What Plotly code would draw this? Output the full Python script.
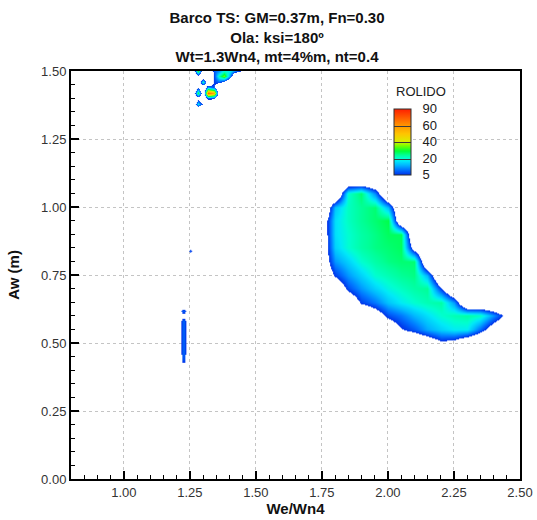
import numpy as np
import plotly.graph_objects as go

# ---------------------------------------------------------------------------
# Roll response (ROLIDO, degrees) on the frequency-ratio / wave-amplitude plane
# x: We/Wn4, y: Aw (m). Values below 5 are left blank in the flood.
# ---------------------------------------------------------------------------

# main unstable region
x_main = [1.70, 1.75, 1.80, 1.85, 1.90, 1.95, 2.00, 2.05, 2.10, 2.15, 2.20, 2.25,
          2.30, 2.35, 2.40, 2.45, 2.50]
y_main = [0.45, 0.50, 0.55, 0.60, 0.65, 0.70, 0.75, 0.80, 0.85, 0.90, 0.95, 1.00,
          1.05, 1.10, 1.15]
rolido_main = [
    [0, 0,   0,  0,  0,  0,   0,   0,   0,   0.5, 1,   1,   0.5, 0,  0,  0,  0],
    [0, 0,   0,  0,  0,  0,   0.5, 1,   0.5, 2,   4.2, 3.5, 1,   0,  0,  0,  0],
    [0, 0,   0,  0,  0,  0.5, 2.5, 4.8, 8,   13,  16,  18,  18,  9,  3,  1,  0],
    [0, 0,   0,  0,  1,  3,   7,   10,  14,  17,  20,  22,  23,  21, 12, 4,  0],
    [0, 0,   0,  2,  6,  10,  15,  18,  20,  22,  23,  12,  0,   0,  0,  0,  0],
    [0, 0,   2,  7,  12, 16,  19,  21,  23,  24,  5.5, 0,   0,   0,  0,  0,  0],
    [0, 1.5, 6,  12, 16, 20,  22,  24,  25,  14,  0,   0,   0,   0,  0,  0,  0],
    [0, 2.5, 12, 16, 20, 23,  25,  26,  26,  0,   0,   0,   0,   0,  0,  0,  0],
    [0, 2.5, 16, 20, 23, 25,  26,  27,  3,   0,   0,   0,   0,   0,  0,  0,  0],
    [0, 2.5, 17, 20, 23, 25,  27,  27,  0,   0,   0,   0,   0,   0,  0,  0,  0],
    [0, 2.5, 17, 21, 24, 26,  28,  0.5, 0,   0,   0,   0,   0,   0,  0,  0,  0],
    [0, 0,   15, 21, 24, 26,  14,  0,   0,   0,   0,   0,   0,   0,  0,  0,  0],
    [0, 0,   0,  20, 26, 11,  0,   0,   0,   0,   0,   0,   0,   0,  0,  0,  0],
    [0, 0,   0,  0,  0,  0,   0,   0,   0,   0,   0,   0,   0,   0,  0,  0,  0],
    [0, 0,   0,  0,  0,  0,   0,   0,   0,   0,   0,   0,   0,   0,  0,  0,  0],
]

# narrow streak near We/Wn4 = 1.22
x_streak = [1.20, 1.21, 1.22, 1.23, 1.24, 1.25]
y_streak = [0.40, 0.42, 0.44, 0.46, 0.48, 0.50, 0.52, 0.54, 0.56, 0.58, 0.60,
            0.62, 0.64, 0.66]
rolido_streak = [
    [0, 0, 0, 0,   0, 0],
    [0, 1, 4, 4.5, 1, 0],
    [0, 2, 7, 7,   2, 0],
    [0, 3, 8, 8,   3, 0],
    [0, 3, 8, 8,   3, 0],
    [0, 3, 8, 8,   3, 0],
    [0, 3, 8, 8,   3, 0],
    [0, 3, 8, 8,   3, 0],
    [0, 3, 8, 8,   3, 0],
    [0, 3, 8, 8,   3, 0],
    [0, 2, 4, 4,   2, 0],
    [0, 4, 8, 8,   4, 0],
    [0, 0, 2, 2,   0, 0],
    [0, 0, 0, 0,   0, 0],
]

# isolated point near Aw = 0.84
x_dot = [1.23, 1.24, 1.25, 1.26, 1.27]
y_dot = [0.82, 0.83, 0.84, 0.85, 0.86]
rolido_dot = [
    [0, 0, 0, 0, 0],
    [0, 0, 4, 0, 0],
    [0, 4, 8, 4, 0],
    [0, 0, 4, 0, 0],
    [0, 0, 0, 0, 0],
]

# scattered spots at the top of the domain
x_top = [1.26, 1.28, 1.30, 1.32, 1.34, 1.36, 1.38, 1.40, 1.42, 1.44, 1.46]
y_top = [1.36, 1.38, 1.40, 1.42, 1.44, 1.46, 1.48, 1.50]
rolido_top = [
    [0, 0,  0,  0,  0,  0,  0,  0,  0,  0, 0],
    [0, 18, 4,  0,  0,  0,  0,  0,  0,  0, 0],
    [0, 3,  0,  9,  7,  0,  0,  0,  0,  0, 0],
    [0, 30, 0,  70, 55, 0,  0,  0,  0,  0, 0],
    [0, 4,  0,  12, 7,  0,  0,  0,  0,  0, 0],
    [0, 0,  22, 0,  6,  8,  4,  0,  0,  0, 0],
    [0, 3,  0,  0,  6,  22, 35, 12, 0,  0, 0],
    [0, 32, 0,  0,  8,  12, 20, 18, 10, 5, 0],
]

# legend levels
legend_title = "ROLIDO"
legend_levels = [5, 20, 40, 60, 90]
legend_labels = ["5", "20", "40", "60", "90"]

x_ticks = [1.00, 1.25, 1.50, 1.75, 2.00, 2.25, 2.50]
y_ticks = [0.00, 0.25, 0.50, 0.75, 1.00, 1.25, 1.50]

# ---------------------------------------------------------------------------
# colour mapping: levels are spaced evenly in the legend, so values are mapped
# onto a level index t (5 -> 0, 20 -> 1, 40 -> 2, 60 -> 3, 90 -> 4); 0 -> -1
# ---------------------------------------------------------------------------
level_pts = [0] + legend_levels
index_pts = [-1, 0, 1, 2, 3, 4]


def to_index(z):
    return np.interp(np.asarray(z, dtype=float), level_pts, index_pts)


base_stops = [
    (0.00, "#0030e8"),
    (0.30, "#0070ff"),
    (0.60, "#00b8ff"),
    (0.85, "#00eaf8"),
    (1.00, "#00ffd0"),
    (1.20, "#00ff98"),
    (1.45, "#00ff38"),
    (1.75, "#70ff00"),
    (2.00, "#d8f000"),
    (2.50, "#ffc400"),
    (3.00, "#ff9400"),
    (3.50, "#ff5800"),
    (4.00, "#ff1e00"),
]

# flood scale over t in [-1, 4]; anything under level 5 is transparent
flood_scale = [[0.0, "rgba(0,48,232,0)"], [0.1999, "rgba(0,48,232,0)"]]
flood_scale += [[(t + 1) / 5, c] for t, c in base_stops]
# legend scale over t in [0, 4]
legend_scale = [[t / 4, c] for t, c in base_stops]

fig = go.Figure()

for xs, ys, zs in [(x_main, y_main, rolido_main),
                   (x_streak, y_streak, rolido_streak),
                   (x_dot, y_dot, rolido_dot),
                   (x_top, y_top, rolido_top)]:
    fig.add_trace(go.Heatmap(
        x=xs, y=ys, z=to_index(zs),
        zmin=-1, zmax=4, colorscale=flood_scale,
        zsmooth="best", showscale=False, hoverinfo="skip",
    ))

# legend carrier: contour levels give the separator lines in the colour bar
fig.add_trace(go.Contour(
    x=[0.1, 0.2], y=[0.1, 0.2], z=[[0, 4], [0, 4]],
    zmin=0, zmax=4, colorscale=legend_scale,
    autocontour=False,
    contours=dict(start=1, end=3, size=1, coloring="heatmap", showlines=True),
    line=dict(color="#3a3a3a", width=1),
    hoverinfo="skip",
    colorbar=dict(
        x=(394 - 71) / 449, xanchor="left", xpad=0,
        y=(479 - 141.5) / 408, yanchor="middle", ypad=0,
        len=66, lenmode="pixels", thickness=17, thicknessmode="pixels",
        outlinewidth=1, outlinecolor="#303030",
        tickmode="array", tickvals=list(range(len(legend_labels))),
        ticktext=legend_labels, ticks="outside", ticklen=9,
        tickcolor="rgba(0,0,0,0)",
        tickfont=dict(family="Liberation Sans, Arial", size=13, color="#202020"),
    ),
))

# legend heading
fig.add_annotation(
    text=legend_title, xref="paper", yref="paper",
    x=(394 - 71) / 449, y=(479 - 91) / 408, xanchor="left", yanchor="middle",
    showarrow=False,
    font=dict(family="Liberation Sans, Arial", size=13, color="#202020"),
)

axis_common = dict(
    ticks="inside", ticklen=8, tickwidth=2, tickcolor="black",
    showline=True, linewidth=2, linecolor="black", mirror=True,
    showgrid=True, gridcolor="#c4c4c4", griddash="dot", gridwidth=1,
    zeroline=False, tickformat=".2f", automargin=False,
    tickfont=dict(family="Liberation Sans, Arial", size=13, color="#333333"),
)

fig.update_layout(
    width=537, height=520,
    margin=dict(l=71, r=17, t=71, b=41, autoexpand=False),
    paper_bgcolor="white", plot_bgcolor="white",
    title=dict(
        text="Barco TS: GM=0.37m, Fn=0.30<br>Ola: ksi=180º<br>Wt=1.3Wn4, mt=4%m, nt=0.4",
        xref="container", x=277 / 537, xanchor="center",
        yref="container", y=1 - 23 / 520, yanchor="top",
        font=dict(family="Liberation Sans, Arial", size=15, color="#111111", weight="bold"),
    ),
    xaxis=dict(
        range=[0.8, 2.5], tickvals=x_ticks,
        minor=dict(ticks="inside", ticklen=4, tickwidth=1, tickcolor="black",
                   dtick=0.05, tick0=0.8, showgrid=False),
        title=dict(text="We/Wn4", standoff=3,
                   font=dict(family="Liberation Sans, Arial", size=15,
                             color="#111111", weight="bold")),
        **axis_common,
    ),
    yaxis=dict(
        range=[0, 1.5], tickvals=y_ticks,
        minor=dict(ticks="inside", ticklen=4, tickwidth=1, tickcolor="black",
                   dtick=0.05, tick0=0, showgrid=False),
        title=dict(text="Aw (m)", standoff=18,
                   font=dict(family="Liberation Sans, Arial", size=15,
                             color="#111111", weight="bold")),
        **axis_common,
    ),
    showlegend=False,
)

fig.write_html("out.html")
